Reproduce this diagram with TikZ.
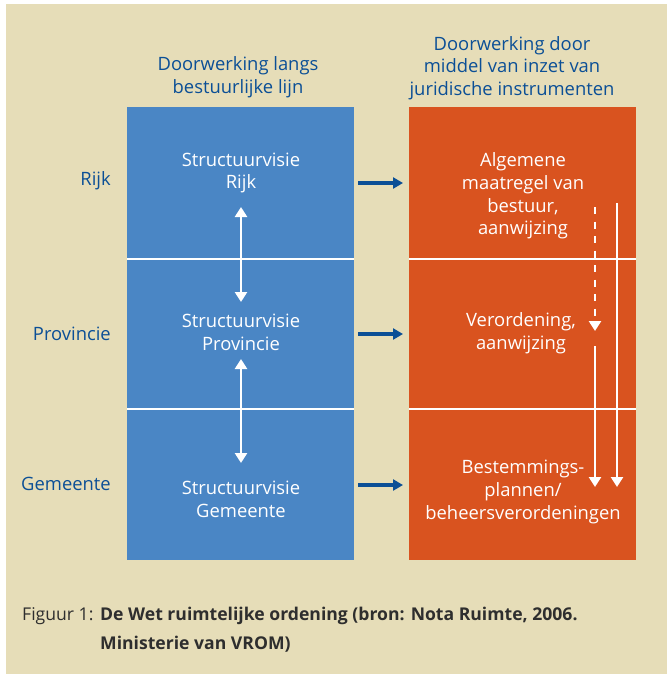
\documentclass[tikz,border=0pt]{standalone}
\usepackage{fontspec}
\setmainfont{Open Sans}
\usetikzlibrary{arrows.meta}
\definecolor{paper}{HTML}{E6DDB8}
\definecolor{boxblue}{HTML}{4A86C5}
\definecolor{boxorange}{HTML}{D9531F}
\definecolor{inkblue}{HTML}{0B4F96}
\definecolor{capgray}{HTML}{2E2E2E}
\tikzset{
  column/.style={draw=none, minimum width=227pt, minimum height=453pt, inner sep=0pt},
  boxtext/.style={text=white, align=center, font=\fontsize{18.4}{22.7}\selectfont, inner sep=0pt},
  headtext/.style={text=inkblue, align=center, font=\fontsize{18.4}{22.7}\selectfont, inner sep=0pt},
  leveltext/.style={text=inkblue, anchor=east, font=\fontsize{18.4}{22}\selectfont, inner sep=0pt},
  divider/.style={white, line width=2pt},
  linkarrow/.style={inkblue, line width=3.2pt, -{Triangle[length=10pt,width=11pt]}},
  updown/.style={white, line width=2.8pt, {Triangle[length=10pt,width=12pt]}-{Triangle[length=10pt,width=12pt]}},
  downarrow/.style={white, line width=2.8pt, -{Triangle[length=10pt,width=12pt]}},
}
\begin{document}
\begin{tikzpicture}[x=1pt,y=-1pt]
  % page and background
  \useasboundingbox (0,0) rectangle (667,674);
  \fill[white] (0,0) rectangle (667,674);
  \fill[paper] (6,4) rectangle (667,674);

  % the two columns
  \node[column, fill=boxblue, anchor=north west] (blue) at (127,107) {};
  \node[column, fill=boxorange, anchor=north west] (orange) at (409,107) {};

  % level dividers across both columns
  \coordinate (b1w) at (127,259); \coordinate (b1e) at (354,259);
  \coordinate (b2w) at (127,409); \coordinate (b2e) at (354,409);
  \coordinate (o1w) at (409,259); \coordinate (o1e) at (636,259);
  \coordinate (o2w) at (409,409); \coordinate (o2e) at (636,409);
  \draw[divider] (b1w) -- (b1e);
  \draw[divider] (b2w) -- (b2e);
  \draw[divider] (o1w) -- (o1e);
  \draw[divider] (o2w) -- (o2e);

  % column headings
  \node[headtext] (hleft) at (238,77) {Doorwerking langs\\bestuurlijke lijn};
  \node[headtext] (hright) at (512,68) {Doorwerking door\\middel van inzet van\\juridische instrumenten};

  % government levels
  \node[leveltext] (rijk) at (111,181) {Rijk};
  \node[leveltext] (prov) at (111,334) {Provincie};
  \node[leveltext] (gem) at (111,484) {Gemeente};

  % structure visions
  \node[boxtext] (svr) at (241,173) {Structuurvisie\\Rijk};
  \node[boxtext] (svp) at (241,332) {Structuurvisie\\Provincie};
  \node[boxtext] (svg) at (241,499.5) {Structuurvisie\\Gemeente};

  % legal instruments
  \node[boxtext] (amvb) at (523,196) {Algemene\\maatregel van\\bestuur,\\aanwijzing};
  \node[boxtext] (verord) at (521,333) {Verordening,\\aanwijzing};
  \node[boxtext] (bestem) at (523,492) {Bestemmings-\\plannen/\\beheersverordeningen};

  % vertical links between structure visions
  \coordinate (u1t) at (241,207); \coordinate (u1b) at (241,302);
  \coordinate (u2t) at (241,359); \coordinate (u2b) at (241,463);
  \draw[updown] (u1t) -- (u1b);
  \draw[updown] (u2t) -- (u2b);

  % links from visions to instruments
  \coordinate (a1s) at (358,183); \coordinate (a1e) at (403,183);
  \coordinate (a2s) at (358,334); \coordinate (a2e) at (403,334);
  \coordinate (a3s) at (358,485); \coordinate (a3e) at (403,485);
  \draw[linkarrow] (a1s) -- (a1e);
  \draw[linkarrow] (a2s) -- (a2e);
  \draw[linkarrow] (a3s) -- (a3e);

  % downward working of the instruments
  \coordinate (d1t) at (595,207); \coordinate (d1b) at (595,331);
  \coordinate (d2t) at (595,346); \coordinate (d2b) at (595,487);
  \coordinate (d3t) at (617,203); \coordinate (d3b) at (617,487);
  \draw[downarrow, dash pattern=on 7pt off 7.5pt] (d1t) -- (d1b);
  \draw[downarrow] (d2t) -- (d2b);
  \draw[downarrow] (d3t) -- (d3b);

  % caption
  \node[anchor=base west, inner sep=0pt, text=capgray, font=\fontsize{17.6}{20}\selectfont] (fig) at (22,620) {Figuur 1:};
  \node[anchor=base west, inner sep=0pt, text=capgray, align=left, font=\fontsize{17.6}{29}\selectfont\bfseries] (cap) at (100,649)
    {De Wet ruimtelijke ordening (bron: Nota Ruimte, 2006.\\Ministerie van VROM)};
\end{tikzpicture}
\end{document}
